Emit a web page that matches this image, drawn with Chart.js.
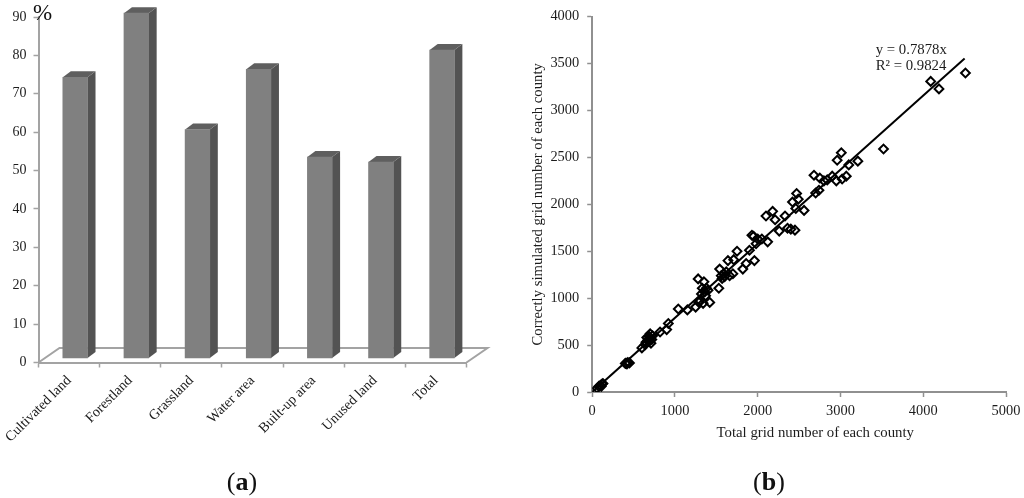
<!DOCTYPE html>
<html>
<head>
<meta charset="utf-8">
<script src="https://cdn.jsdelivr.net/npm/chart.js@4"></script>
<style>
  html, body { margin: 0; padding: 0; background: #fff; overflow: hidden; }
  canvas { position: absolute; top: 0; }
  #chartA { left: 0; }
  #chartB { left: 500px; }
  .cap { position: absolute; top: 467px; font: 26px "Liberation Serif", serif; color: #111; transform: translateX(-50%); }
</style>
</head>
<body>
<canvas id="chartA" width="500" height="498" style="width:500px;height:498px"></canvas>
<canvas id="chartB" width="524" height="498" style="width:524px;height:498px"></canvas>
<div class="cap" style="left:242px">(<b>a</b>)</div>
<div class="cap" style="left:769px">(<b>b</b>)</div>
<script>
// wykres (a)
const categories = ["Cultivated land", "Forestland", "Grassland", "Water area", "Built-up area", "Unused land", "Total"];
const barValues = [74.3, 91, 60.7, 76.4, 53.5, 52.2, 81.4];
const barBase = 1.2;
const barTicks = [0, 10, 20, 30, 40, 50, 60, 70, 80, 90];

// wykres (b)
const totalGrid = [60, 80, 100, 120, 130, 110, 400, 410, 420, 430, 450,
  600, 640, 650, 660, 670, 680, 690, 700, 700, 710, 720, 730,
  820, 900, 920, 1040, 1150, 1250, 1280, 1290, 1300, 1320, 1330, 1340, 1350, 1360, 1370, 1380, 1400, 1420,
  1530, 1540, 1560, 1570, 1590, 1600, 1620, 1640, 1660, 1700, 1710, 1750, 1820, 1860, 1900, 1930, 1950, 1960, 1980,
  2000, 2050, 2100, 2120, 2180, 2210, 2260, 2330, 2360, 2400, 2420, 2450, 2460, 2470, 2490, 2560,
  2680, 2700, 2740, 2750, 2800, 2840, 2900, 2950, 2960, 3010, 3020, 3070, 3100, 3210, 3520, 4090, 4190, 4510];
const correctGrid = [40, 60, 70, 85, 90, 60, 305, 305, 300, 315, 310,
  470, 505, 530, 580, 550, 540, 590, 550, 620, 520, 560, 600,
  640, 665, 730, 885, 875, 905, 1205, 955, 975, 1045, 1105, 945, 1175, 1065, 1025, 1105, 1085, 955,
  1105, 1310, 1240, 1210, 1260, 1230, 1280, 1400, 1240, 1260, 1410, 1500, 1310, 1370, 1510, 1670, 1660, 1400, 1580,
  1630, 1630, 1875, 1600, 1925, 1835, 1715, 1875, 1745, 1735, 2025, 1725, 1955, 2115, 2055, 1935,
  2310, 2120, 2150, 2280, 2250, 2260, 2300, 2250, 2470, 2550, 2270, 2300, 2420, 2460, 2590, 3310, 3230, 3400];
const trendX = [0, 4500];
const trendY = [0, 3555];
const trendLabels = ["y = 0.7878x", "R² = 0.9824"];

const serif = "'Liberation Serif', serif";
const axisGray = "#a3a3a3";
const textColor = "#1c1c1c";

// przesuniecie slupkow i glebokosc 3D
const barShift = 6.1;
const depthX = 8;
const depthY = 6;

const bars3d = {
  id: "bars3d",
  afterDatasetsUpdate(chart) {
    chart.getDatasetMeta(0).data.forEach((b) => { b.x += barShift; });
  },
  beforeDatasetsDraw(chart) {
    const { ctx, scales } = chart;
    const y0 = scales.y.getPixelForValue(0);
    const left = scales.x.left;
    const right = scales.x.right;
    const floorDx = 21;
    const floorDy = 14.5;
    ctx.save();
    // podloga
    ctx.strokeStyle = axisGray;
    ctx.lineWidth = 2;
    ctx.beginPath();
    ctx.moveTo(left, y0);
    ctx.lineTo(left + floorDx, y0 - floorDy);
    ctx.lineTo(right + floorDx, y0 - floorDy);
    ctx.lineTo(right, y0);
    ctx.stroke();
    // boki i gora slupkow
    chart.getDatasetMeta(0).data.forEach((b) => {
      const l = b.x - b.width / 2;
      const r = b.x + b.width / 2;
      ctx.fillStyle = "#535353";
      ctx.beginPath();
      ctx.moveTo(r, b.y);
      ctx.lineTo(r + depthX, b.y - depthY);
      ctx.lineTo(r + depthX, b.base - depthY);
      ctx.lineTo(r, b.base);
      ctx.closePath();
      ctx.fill();
      ctx.fillStyle = "#5f5f5f";
      ctx.beginPath();
      ctx.moveTo(l, b.y);
      ctx.lineTo(l + depthX, b.y - depthY);
      ctx.lineTo(r + depthX, b.y - depthY);
      ctx.lineTo(r, b.y);
      ctx.closePath();
      ctx.fill();
    });
    ctx.restore();
  },
  afterDraw(chart) {
    const { ctx, scales } = chart;
    ctx.save();
    ctx.fillStyle = "#111";
    ctx.font = "23px " + serif;
    ctx.textAlign = "center";
    ctx.textBaseline = "middle";
    ctx.fillText("%", scales.x.left + 4, scales.y.top - 3);
    ctx.restore();
  },
};

const trendText = {
  id: "trendText",
  afterDraw(chart) {
    const { ctx, scales } = chart;
    ctx.save();
    ctx.fillStyle = textColor;
    ctx.font = "14.8px " + serif;
    ctx.textBaseline = "middle";
    const px = scales.x.getPixelForValue(3425);
    trendLabels.forEach((t, i) => {
      ctx.fillText(t, px, scales.y.getPixelForValue(3647 - i * 172));
    });
    // opis osi x, przesuniety w prawo tak jak w oryginale
    ctx.textAlign = "center";
    ctx.fillText("Total grid number of each county", scales.x.getPixelForValue(2695), 433);
    ctx.restore();
  },
};

new Chart(document.getElementById("chartA"), {
  type: "bar",
  plugins: [bars3d],
  data: {
    labels: categories,
    datasets: [{
      data: barValues,
      base: barBase,
      backgroundColor: "#808080",
      barThickness: 24.7,
      clip: false,
    }],
  },
  options: {
    responsive: false,
    animation: false,
    events: [],
    layout: { padding: { top: 17, right: 33.5 } },
    plugins: { legend: { display: false }, tooltip: { enabled: false } },
    scales: {
      x: {
        afterFit(s) { s.height = 135.5; },
        border: { color: axisGray, width: 2 },
        grid: { drawOnChartArea: false, color: axisGray, tickLength: 5, tickWidth: 1.5 },
        ticks: { color: textColor, font: { family: serif, size: 14.1 }, minRotation: 45, maxRotation: 45, padding: 5, autoSkip: false },
      },
      y: {
        min: 0,
        max: 90,
        afterFit(s) { s.width = 38.5; },
        afterBuildTicks(s) { s.ticks = barTicks.map((v) => ({ value: v })); },
        border: { color: axisGray, width: 2 },
        grid: { drawOnChartArea: false, color: axisGray, tickLength: 5, tickWidth: 1.5 },
        ticks: { color: textColor, font: { family: serif, size: 14 }, padding: 7 },
      },
    },
  },
});

new Chart(document.getElementById("chartB"), {
  type: "scatter",
  plugins: [trendText],
  data: {
    datasets: [
      {
        data: trendX.map((x, i) => ({ x: x, y: trendY[i] })),
        showLine: true,
        borderColor: "#000",
        borderWidth: 2,
        pointRadius: 0,
      },
      {
        data: totalGrid.map((x, i) => ({ x: x, y: correctGrid[i] })),
        pointStyle: "rectRot",
        pointRadius: 4.4,
        pointBorderWidth: 2,
        pointBorderColor: "#000",
        pointBackgroundColor: "rgba(255,255,255,0)",
      },
    ],
  },
  options: {
    responsive: false,
    animation: false,
    events: [],
    layout: { padding: { top: 14, right: 18 } },
    plugins: { legend: { display: false }, tooltip: { enabled: false } },
    scales: {
      x: {
        min: 0,
        max: 5000,
        afterFit(s) { s.height = 106; s.paddingLeft = 0; s.paddingRight = 0; },
        border: { color: "#909090", width: 2 },
        grid: { drawOnChartArea: false, color: "#909090", tickLength: 5, tickWidth: 1.5 },
        ticks: { stepSize: 1000, color: textColor, font: { family: serif, size: 14.4 }, padding: 6, maxRotation: 0, callback: (v) => String(v) },
      },
      y: {
        min: 0,
        max: 4000,
        afterFit(s) { s.width = 92.2; },
        border: { color: "#909090", width: 2 },
        grid: { drawOnChartArea: false, color: "#909090", tickLength: 5, tickWidth: 1.5 },
        ticks: { stepSize: 500, color: textColor, font: { family: serif, size: 14.4 }, padding: 8, callback: (v) => String(v) },
        title: { display: true, text: "Correctly simulated grid number of each county", color: textColor, font: { family: serif, size: 14.7 }, padding: { top: 29, bottom: 0 } },
      },
    },
  },
});
</script>
</body>
</html>
